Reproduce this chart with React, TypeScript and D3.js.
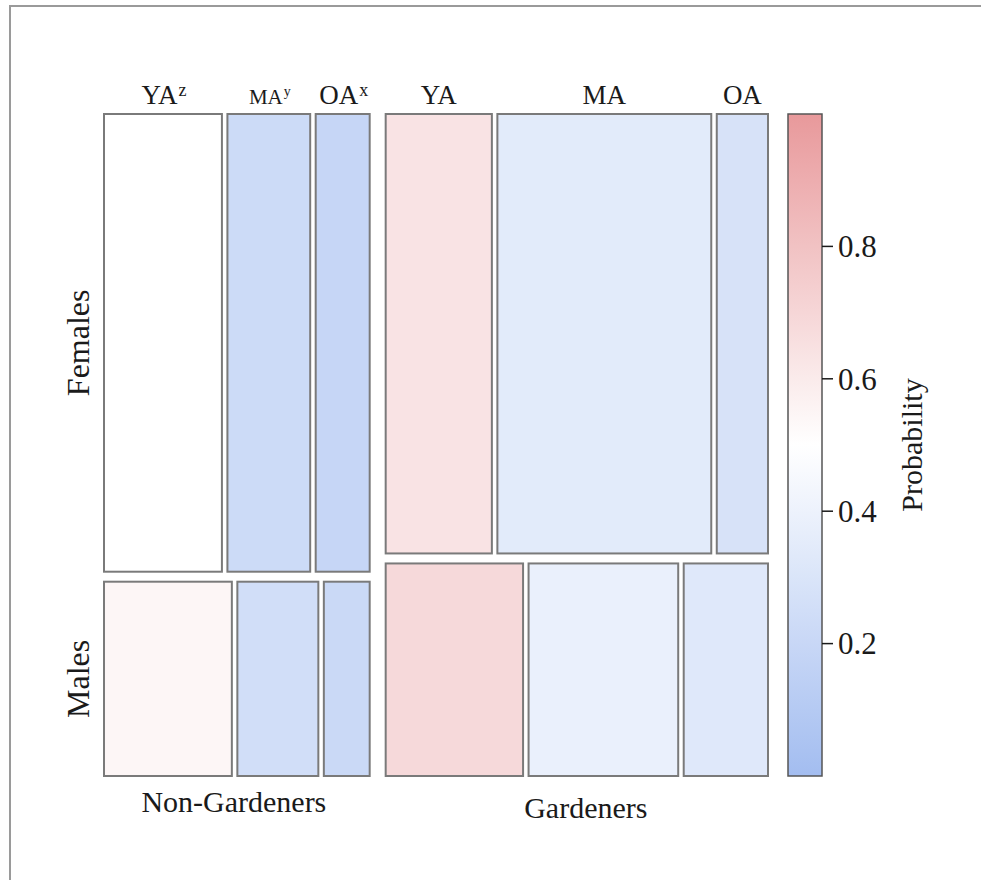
import React from 'react';
import * as d3 from 'd3';

// mosaic data: gardener group -> gender -> age class
const groups = ['Non-Gardeners', 'Gardeners'];
const genders = ['Females', 'Males'];
const ages = ['YA', 'MA', 'OA'];
const ageSup = [['z', 'y', 'x'], ['', '', '']];

const groupShare = [0.41, 0.59];
const femaleShare = [0.702, 0.674];
const ageShareFemales = [
  [0.463, 0.325, 0.212],
  [0.286, 0.576, 0.138],
];
const ageShareMales = [
  [0.502, 0.318, 0.18],
  [0.37, 0.403, 0.227],
];
const probFemales = [
  [0.5, 0.225, 0.19],
  [0.635, 0.345, 0.28],
];
const probMales = [
  [0.545, 0.25, 0.21],
  [0.685, 0.385, 0.325],
];
const colorTicks = [0.2, 0.4, 0.6, 0.8];

const W = 981;
const H = 880;
const left = 104;
const right = 768;
const top = 114;
const bottom = 776;
const groupGap = 16;
const rowGap = 10;
const tileGap = 5.5;
const font = '"Liberation Serif", "DejaVu Serif", serif';
const ink = '#1a1a1a';

const color = d3
  .scaleLinear<string>()
  .domain([0, 0.5, 1])
  .range(['#a3bdf0', '#ffffff', '#e8999b'])
  .interpolate(d3.interpolateRgb);

function App() {
  // horizontal split into groups
  const usableW = right - left - groupGap;
  const groupX: number[] = [];
  let gx = left;
  groupShare.forEach((s) => {
    groupX.push(gx);
    gx += s * usableW + groupGap;
  });

  const usableH = bottom - top - rowGap;
  const tiles: any[] = [];
  const topLabels: any[] = [];
  const sideLabels: any[] = [];

  groups.forEach((g, gi) => {
    const x0 = groupX[gi];
    const gw = groupShare[gi] * usableW;
    const rowH = [femaleShare[gi] * usableH, (1 - femaleShare[gi]) * usableH];
    const rowY = [top, top + rowH[0] + rowGap];
    genders.forEach((sex, si) => {
      const shares = si === 0 ? ageShareFemales[gi] : ageShareMales[gi];
      const probs = si === 0 ? probFemales[gi] : probMales[gi];
      const tileW = gw - tileGap * (ages.length - 1);
      const x = d3.scaleLinear().domain([0, 1]).range([x0, x0 + tileW]);
      let cum = 0;
      ages.forEach((a, ai) => {
        const tx = x(cum) + ai * tileGap;
        const tw = x(cum + shares[ai]) - x(cum);
        tiles.push({ key: `${g}-${sex}-${a}`, x: tx, y: rowY[si], w: tw, h: rowH[si], fill: color(probs[ai]) });
        if (si === 0) topLabels.push({ key: `${g}-${a}`, cx: tx + tw / 2, text: a, sup: ageSup[gi][ai] });
        cum += shares[ai];
      });
      if (gi === 0) sideLabels.push({ text: sex, cy: rowY[si] + rowH[si] / 2 });
    });
  });

  const cbX = 788;
  const cbW = 34;
  const yc = d3.scaleLinear().domain([0, 1]).range([bottom, top]);
  const stops = d3.range(0, 1.0001, 0.1);

  return (
    <svg width={W} height={H} style={{ position: 'absolute', left: 0, top: 0, background: '#fff' }} fontFamily={font}>
      <defs>
        <linearGradient id="cb" x1="0" y1="1" x2="0" y2="0">
          {stops.map((s) => (
            <stop key={s} offset={s} stopColor={color(s)} />
          ))}
        </linearGradient>
      </defs>
      <rect x={10} y={6} width={1000} height={1000} fill="none" stroke="#9a9a9a" strokeWidth={2} />

      {tiles.map((t) => (
        <rect key={t.key} x={t.x} y={t.y} width={t.w} height={t.h} fill={t.fill} stroke="#7a7a7a" strokeWidth={2} />
      ))}

      {topLabels.map((l) =>
        l.sup ? (
          <text key={l.key} x={l.cx + 1} y={104} textAnchor="middle" fontSize={l.text === 'MA' ? 21 : 27} fill={ink}>
            {l.text}
            <tspan fontSize={l.text === 'MA' ? 14 : 18} dy={-8} dx={1}>
              {l.sup}
            </tspan>
          </text>
        ) : (
          <text key={l.key} x={l.cx} y={104} textAnchor="middle" fontSize={27} fill={ink}>
            {l.text}
          </text>
        )
      )}

      {sideLabels.map((l) => (
        <text key={l.text} transform={`translate(89,${l.cy}) rotate(-90)`} textAnchor="middle" fontSize={32} fill={ink}>
          {l.text}
        </text>
      ))}

      {groups.map((g, gi) => (
        <text
          key={g}
          x={groupX[gi] + (groupShare[gi] * usableW) / 2 + (gi === 0 ? -3 : 9)}
          y={gi === 0 ? 812 : 818}
          textAnchor="middle"
          fontSize={30}
          fill={ink}
        >
          {g}
        </text>
      ))}

      <rect x={cbX} y={top} width={cbW} height={bottom - top} fill="url(#cb)" stroke="#555" strokeWidth={1.5} />
      {colorTicks.map((t) => (
        <g key={t} transform={`translate(${cbX + cbW},${yc(t)})`}>
          <line x1={0} x2={11} stroke={ink} strokeWidth={1.5} />
          <text x={16} dy="0.35em" fontSize={31} fill={ink}>
            {d3.format('.1f')(t)}
          </text>
        </g>
      ))}
      <text transform={`translate(922,${yc(0.5)}) rotate(-90)`} textAnchor="middle" fontSize={30} fill={ink}>
        Probability
      </text>
    </svg>
  );
}

export default App;
